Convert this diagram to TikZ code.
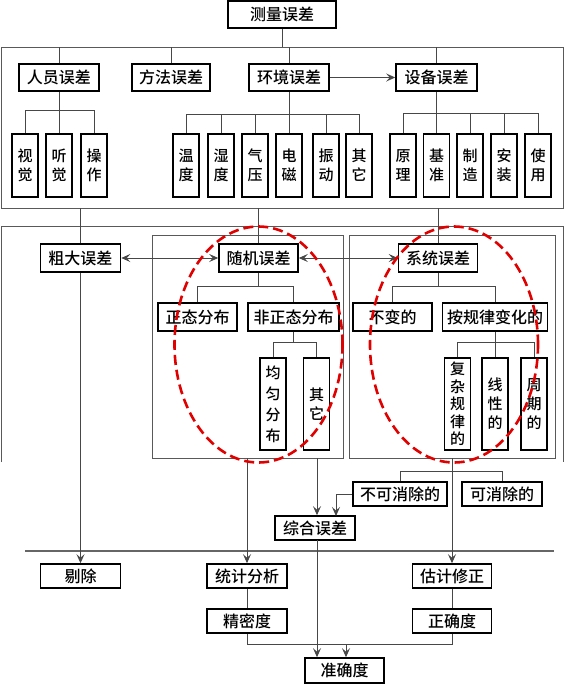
\documentclass[tikz,border=0pt]{standalone}
\usepackage{fontspec}
\IfFontExistsTF{Noto Sans CJK SC Medium}{\newfontfamily\cjk{Noto Sans CJK SC Medium}}{\newfontfamily\cjk{Noto Sans CJK SC}}
\usetikzlibrary{arrows.meta}
\begin{document}
\begin{tikzpicture}[x=1pt,y=-1pt,
  hb/.style={draw=black, line width=1.6pt, inner sep=0pt, minimum height=27pt, fill=white, font=\cjk\fontsize{16}{18}\selectfont},
  vb/.style={draw=black, line width=1.6pt, inner sep=0pt, minimum width=26pt, align=center, fill=white, font=\cjk\fontsize{15}{19}\selectfont},
  ln/.style={line width=1pt, draw=black!72},
  fr/.style={line width=1pt, draw=black!65},
  tipb/.tip={Stealth[length=9pt,width=8pt,inset=3.5pt]},
  ar/.style={ln, -tipb},
  dar/.style={ln, tipb-tipb},
  redd/.style={draw=red!88!black, line width=2.6pt, dash pattern=on 10pt off 5pt}
]
\useasboundingbox (0,0) rectangle (564,689);

% ---------- top part ----------
\coordinate (tedge) at (0,47);
\coordinate (bedge) at (0,208);
\draw[fr] (1,47) rectangle (563,208);
\node[hb, minimum width=108pt] (top) at (282,14.5) {测量误差};
\draw[ln] (top.south) -- (top.south |- tedge);

\node[hb, minimum width=80pt] (ry) at (59,77.5) {人员误差};
\node[hb, minimum width=78pt] (ff) at (171,77.5) {方法误差};
\node[hb, minimum width=80pt] (hj) at (289,77.5) {环境误差};
\node[hb, minimum width=81pt] (sb) at (436.5,77.5) {设备误差};
\foreach \n in {ry,ff,hj,sb} \draw[ln] (\n.north) -- (\n.north |- tedge);
\draw[ar] (hj.east) -- (sb.west);

% personnel children
\node[vb, minimum height=63pt] (a1) at (25,165.5) {视\\觉};
\node[vb, minimum height=63pt] (a2) at (59,165.5) {听\\觉};
\node[vb, minimum height=63pt] (a3) at (94,165.5) {操\\作};
\draw[ln] (a1.north) -- ++(0,-23) -| (a3.north);
\draw[ln] (ry.south) -- (a2.north);

% environment children
\node[vb, minimum height=63pt] (b1) at (186,165.5) {温\\度};
\node[vb, minimum height=63pt] (b2) at (221,165.5) {湿\\度};
\node[vb, minimum height=63pt] (b3) at (255,165.5) {气\\压};
\node[vb, minimum height=63pt] (b4) at (289,165.5) {电\\磁};
\node[vb, minimum height=63pt] (b5) at (326,165.5) {振\\动};
\node[vb, minimum height=63pt] (b6) at (359,165.5) {其\\它};
\draw[ln] (b1.north) -- ++(0,-19) -| (b6.north);
\foreach \n in {b2,b3,b5} \draw[ln] (\n.north) -- ++(0,-19);
\draw[ln] (hj.south) -- (b4.north);

% equipment children
\node[vb, minimum height=63pt] (c1) at (403,165.5) {原\\理};
\node[vb, minimum height=63pt] (c2) at (436.5,165.5) {基\\准};
\node[vb, minimum height=63pt] (c3) at (470,165.5) {制\\造};
\node[vb, minimum height=63pt] (c4) at (504,165.5) {安\\装};
\node[vb, minimum height=63pt] (c5) at (538,165.5) {使\\用};
\draw[ln] (c1.north) -- ++(0,-20) -| (c5.north);
\foreach \n in {c3,c4} \draw[ln] (\n.north) -- ++(0,-20);
\draw[ln] (sb.south) -- (c2.north);

% ---------- middle part ----------
\draw[fr] (1,462) -- (1,226) -- (563,226) -- (563,462);
\draw[fr] (152,235) rectangle (343,458);
\draw[fr] (349,235) rectangle (555,458);

\node[hb, minimum width=80pt, minimum height=28pt] (cd) at (80.5,258) {粗大误差};
\node[hb, minimum width=79pt, minimum height=28pt] (sj) at (258.5,258) {随机误差};
\node[hb, minimum width=79pt, minimum height=28pt] (xt) at (438,258) {系统误差};
\foreach \n in {cd,sj,xt} \draw[ln] (\n.north) -- (\n.north |- bedge);
\draw[dar] (cd.east) -- (sj.west);
\draw[dar] (sj.east) -- (xt.west);

% random tree
\node[hb, minimum width=79pt, minimum height=28pt] (zt) at (197.5,317) {正态分布};
\node[hb, minimum width=91pt, minimum height=28pt] (fz) at (293.5,317) {非正态分布};
\coordinate (rbar) at (0,286);
\draw[ln] (sj.south) -- (sj.south |- rbar);
\draw[ln] (zt.north) |- (fz.north |- rbar) -- (fz.north);
\node[vb, minimum height=92pt, font=\cjk\fontsize{15}{21}\selectfont] (jy) at (273,404) {均\\匀\\分\\布};
\node[vb, minimum height=92pt] (qt) at (316.5,404) {其\\它};
\coordinate (rbar2) at (0,342);
\draw[ln] (fz.south) -- (fz.south |- rbar2);
\draw[ln] (jy.north) |- (qt.north |- rbar2) -- (qt.north);

% systematic tree
\node[hb, minimum width=79pt, minimum height=28pt] (bb) at (392.5,317) {不变的};
\node[hb, minimum width=105pt, minimum height=28pt] (gl) at (495,317) {按规律变化的};
\draw[ln] (xt.south) -- (xt.south |- rbar);
\draw[ln] (bb.north) |- (gl.north |- rbar) -- (gl.north);
\node[vb, minimum height=92pt, font=\cjk\fontsize{15}{17.5}\selectfont] (fzgl) at (457.5,404) {复\\杂\\规\\律\\的};
\node[vb, minimum height=92pt] (xx) at (495,404) {线\\性\\的};
\node[vb, minimum height=92pt] (zq) at (534,404) {周\\期\\的};
\draw[ln] (gl.south) -- (xx.north);
\draw[ln] (fzgl.north) |- (zq.north |- rbar2) -- (zq.north);

% ---------- bottom part ----------
\node[hb, minimum width=94pt, minimum height=24pt] (bkx) at (400,494) {不可消除的};
\node[hb, minimum width=80pt, minimum height=24pt] (kx) at (502,494) {可消除的};
\node[hb, minimum width=80pt, minimum height=24pt] (zh) at (315,528) {综合误差};
\draw[line width=1.5pt, draw=black!60] (25,551) -- (554,551);

\node[hb, minimum width=80pt, minimum height=24pt] (tc) at (80.5,576) {剔除};
\node[hb, minimum width=80pt, minimum height=24pt] (tj) at (247,576) {统计分析};
\node[hb, minimum width=79pt, minimum height=24pt] (gj) at (452,576) {估计修正};
\node[hb, minimum width=80pt, minimum height=24pt] (jm) at (247,621) {精密度};
\node[hb, minimum width=79pt, minimum height=24pt] (zqd) at (452,621) {正确度};
\node[hb, minimum width=79pt, minimum height=25pt] (zd) at (344.5,670.5) {准确度};

\coordinate (rb1) at (317,458);
\coordinate (rb2) at (247,458);
\coordinate (sbb) at (452,458);
\coordinate (zin) at (336,516);
\coordinate (zhs) at (317,540);
\coordinate (mid) at (346,644);

\draw[ar] (rb1) -- (rb1 |- zh.north);
\draw[ar] (rb2) -- (tj.north);
\draw[ar] (cd.south) -- (tc.north);
\draw[ar] (sbb) -- (gj.north);
\draw[ln] (bkx.north) |- (kx.north |- 0,471) -- (kx.north);
\draw[ar] (bkx.west) -| (zin);
\draw[ln] (tj) -- (jm);
\draw[ln] (gj) -- (zqd);
\draw[ln] (jm.south) -- (jm.south |- mid) -| (zqd.south);
\draw[ar] (mid) -- (mid |- zd.north);
\draw[ar] (zhs) -- (zhs |- zd.north);

% ---------- red dashed ellipses ----------
\draw[redd] (258.5,344.5) ellipse [x radius=84pt, y radius=118pt];
\draw[redd] (454,344.5) ellipse [x radius=84pt, y radius=118pt];
\end{tikzpicture}
\end{document}
